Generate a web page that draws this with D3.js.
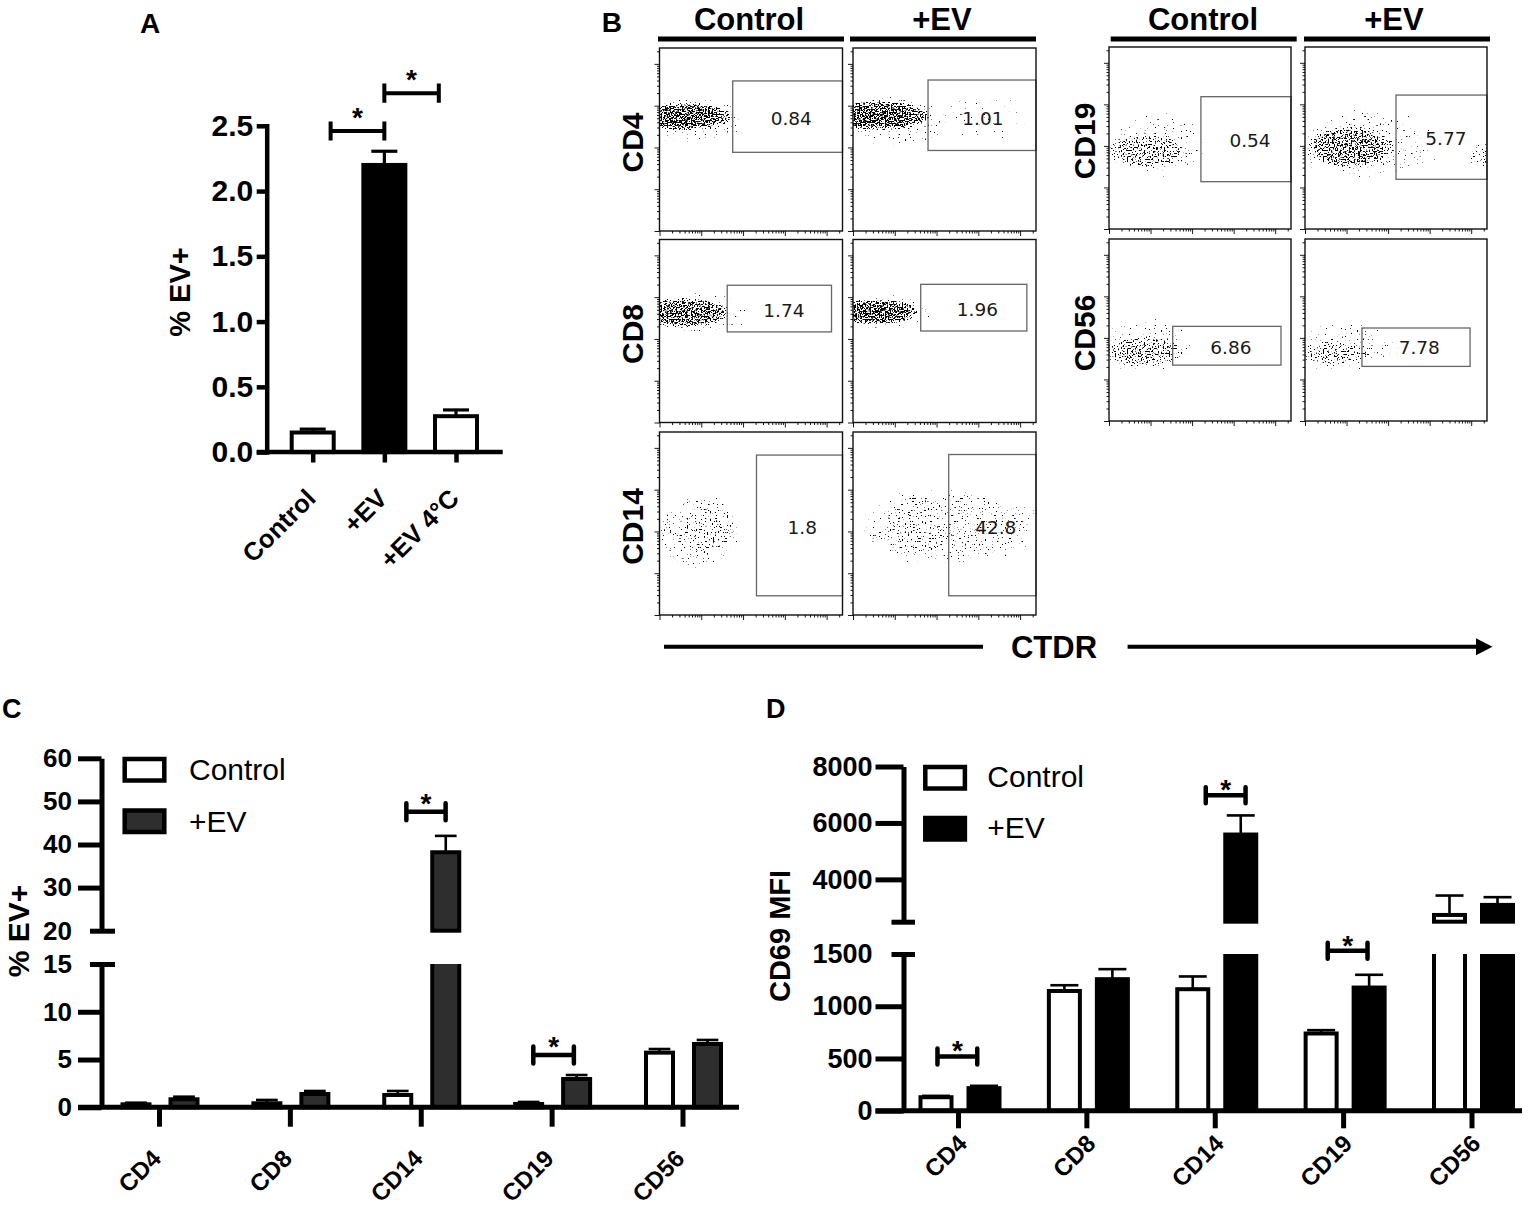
<!DOCTYPE html>
<html>
<head>
<meta charset="utf-8">
<script src="https://cdn.jsdelivr.net/npm/d3@7/dist/d3.min.js"></script>
<style>
  body { margin: 0; background: #fff; }
  svg { display: block; }
  text { font-family: "Liberation Sans", Arial, Helvetica, sans-serif; fill: #000; }
</style>
</head>
<body>
<svg id="fig" width="1536" height="1206"></svg>
<script>
/************** data **************/
// A : % EV+ cells
var groupsA = ['Control', '+EV', '+EV 4°C'];
var meanA   = [0.15, 2.20, 0.275];
var semA    = [0.026, 0.105, 0.048];
var fillA   = ['#fff', '#000', '#fff'];

// C / D : per cell type
var cellTypes  = ['CD4', 'CD8', 'CD14', 'CD19', 'CD56'];
var pctCtrl    = [0.31, 0.42, 1.29, 0.35, 5.72];
var pctCtrlSem = [0.17, 0.35, 0.42, 0.21, 0.38];
var pctEV      = [0.84, 1.39, 38.2, 2.96, 6.63];
var pctEVSem   = [0.27, 0.32, 3.8, 0.42, 0.42];
var mfiCtrl    = [129, 1146, 1163, 739, 2739];
var mfiCtrlSem = [13, 55, 122, 32, 688];
var mfiEV      = [216, 1259, 5589, 1179, 3095];
var mfiEVSem   = [22, 96, 677, 122, 274];

// significance brackets: [from, to] in category index units, height, axis segment
var sigA = [[0.25, 1, 2.46], [1, 1.76, 2.75]];
var sigC = [[1.89, 2.19, 47.6, 'high'], [2.86, 3.17, 5.48, 'low']];
var sigD = [[-0.16, 0.15, 520, 'low'], [1.93, 2.24, 6980, 'high'], [2.88, 3.19, 1530, 'low']];

// B : flow plots, channel units 0-1000 on both axes
var flowMarkers = ['CD4', 'CD8', 'CD14', 'CD19', 'CD56'];
var gateCtrl = [[400,1000,820,430],[370,940,750,495],[530,1000,874,105],[505,1000,727,260],[350,945,520,307]];
var gateEV   = [[410,1000,825,440],[370,950,755,500],[523,1000,877,105],[500,1000,736,273],[313,907,511,300]];
var freqCtrl = ['0.84', '1.74', '1.8', '0.54', '6.86'];
var freqEV   = ['1.01', '1.96', '42.8', '5.77', '7.78'];
var freqPosCtrl = [[720,616],[680,610],[780,480],[775,485],[670,405]];
var freqPosEV   = [[710,616],[680,620],[780,480],[774,500],[628,402]];
// cell clouds: [cx, cy, rx, ry, density]
var cloudCtrl = [
  [[130,625,270,75,1.0],[190,600,330,150,0.78]],
  [[130,600,260,80,0.98],[200,595,330,130,0.78]],
  [[270,470,170,170,0.83],[200,460,260,230,0.8]],
  [[210,430,230,100,0.9],[260,460,330,190,0.78]],
  [[190,380,230,85,0.9],[180,420,330,170,0.78]]
];
var cloudEV = [
  [[140,630,290,80,1.0],[210,600,360,160,0.78],[720,640,300,160,0.74]],
  [[120,605,240,70,1.0],[170,600,300,115,0.77]],
  [[360,480,220,200,0.82],[520,480,560,230,0.8]],
  [[250,450,240,115,0.95],[330,460,430,210,0.79],[975,400,90,80,0.83]],
  [[170,370,220,70,0.87],[200,410,340,160,0.78]]
];

/************** setup **************/
var svg = d3.select('#fig');
var defs = svg.append('defs');

// speckle filter : turns a soft alpha shape into a dot cloud
var flt = defs.append('filter').attr('id', 'speckle')
  .attr('color-interpolation-filters', 'sRGB');
flt.append('feTurbulence').attr('type', 'fractalNoise').attr('baseFrequency', 0.65)
  .attr('numOctaves', 1).attr('seed', 11).attr('result', 'noise');
flt.append('feColorMatrix').attr('in', 'noise').attr('type', 'matrix')
  .attr('values', '0 0 0 0 0  0 0 0 0 0  0 0 0 0 0  1 0 0 0 0').attr('result', 'na');
flt.append('feComposite').attr('in', 'na').attr('in2', 'SourceAlpha').attr('operator', 'arithmetic')
  .attr('k1', 0).attr('k2', 18).attr('k3', 18).attr('k4', -26);

function txt(g, x, y, s, size, weight, anchor) {
  return g.append('text').attr('x', x).attr('y', y).text(s)
    .style('font-size', size + 'px').style('font-weight', weight || 'bold')
    .attr('text-anchor', anchor || 'start');
}

// panel letters
txt(svg, 140, 33, 'A', 28);
txt(svg, 601.7, 31.7, 'B', 28);
txt(svg, 2, 718, 'C', 27);
txt(svg, 766, 718, 'D', 27);

/************** panel A **************/
(function () {
  var g = svg.append('g');
  var ax = 266.7;
  var y = d3.scaleLinear().domain([0, 2.5]).range([452.1, 125.8]);
  var x = d3.scalePoint().domain(groupsA).range([312.7, 456]);
  var xi = d3.scaleLinear().domain([0, groupsA.length - 1]).range([312.7, 456]);
  var bw = 46 - 4;

  groupsA.forEach(function (d, i) {
    var cx = x(d);
    g.append('rect').attr('x', cx - bw / 2).attr('y', y(meanA[i]))
      .attr('width', bw).attr('height', y(0) - y(meanA[i]))
      .attr('fill', fillA[i]).attr('stroke', '#000').attr('stroke-width', 4);
    var top = y(meanA[i] + semA[i]);
    g.append('line').attr('x1', cx).attr('x2', cx).attr('y1', y(meanA[i])).attr('y2', top)
      .attr('stroke', '#000').attr('stroke-width', 3.2);
    g.append('line').attr('x1', cx - 13).attr('x2', cx + 13).attr('y1', top).attr('y2', top)
      .attr('stroke', '#000').attr('stroke-width', 3.2);
  });

  var ya = g.append('g').attr('transform', 'translate(' + ax + ',0)')
    .call(d3.axisLeft(y).tickValues([0, 0.5, 1, 1.5, 2, 2.5]).tickFormat(d3.format('.1f'))
      .tickSize(10).tickSizeOuter(0).tickPadding(3.4));
  ya.select('.domain').attr('stroke-width', 4.5).attr('stroke-linecap', 'square');
  ya.selectAll('.tick line').attr('stroke-width', 4.5);
  ya.selectAll('.tick text').style('font-size', '30px').style('font-weight', 'bold')
    .style('font-family', '"Liberation Sans", Arial, sans-serif');

  g.append('line').attr('x1', ax - 10).attr('x2', 502.7).attr('y1', y(0)).attr('y2', y(0))
    .attr('stroke', '#000').attr('stroke-width', 4.5);
  var xa = g.append('g').attr('transform', 'translate(0,' + y(0) + ')')
    .call(d3.axisBottom(x).tickSize(10.4));
  xa.select('.domain').remove();
  xa.selectAll('.tick line').attr('stroke-width', 4.5);
  xa.selectAll('.tick text').attr('x', 0).attr('y', 0).attr('dy', 0)
    .attr('text-anchor', 'end')
    .attr('transform', 'translate(4,' + (500 - y(0)) + ') rotate(-45)')
    .style('font-size', '25.5px').style('font-weight', 'bold')
    .style('font-family', '"Liberation Sans", Arial, sans-serif');

  g.append('text').attr('transform', 'translate(190,292) rotate(-90)')
    .attr('text-anchor', 'middle').style('font-size', '29px').style('font-weight', 'bold')
    .text('% EV+');

  sigA.forEach(function (s) {
    var x0 = xi(s[0]), x1 = xi(s[1]), yy = y(s[2]);
    g.append('path').attr('d', 'M' + x0 + ',' + (yy - 9.6) + 'V' + (yy + 9.6) + 'M' + x0 + ',' + yy + 'H' + x1 +
      'M' + x1 + ',' + (yy - 9.6) + 'V' + (yy + 9.6))
      .attr('fill', 'none').attr('stroke', '#000').attr('stroke-width', 4);
    txt(g, (x0 + x1) / 2, yy - 20 + 16, '*', 28, 'bold', 'middle');
  });
})();

/************** panels C and D **************/
function brokenPanel(o) {
  var g = svg.append('g');
  var low = d3.scaleLinear().domain(o.lowDomain).range(o.lowRange);
  var high = d3.scaleLinear().domain(o.highDomain).range(o.highRange);
  var lowMax = o.lowDomain[1], highMin = o.highDomain[0];
  var x = d3.scalePoint().domain(cellTypes).range(o.xRange);
  var xi = d3.scaleLinear().domain([0, cellTypes.length - 1]).range(o.xRange);

  o.series.forEach(function (s, si) {
    cellTypes.forEach(function (c, i) {
      var v = s.mean[i], e = s.sem[i];
      var cx = x(c) + o.offsets[si], w = o.barW - 4, x0 = cx - w / 2;
      if (v <= lowMax) {
        g.append('rect').attr('x', x0).attr('y', low(v)).attr('width', w)
          .attr('height', low(0) - low(v)).attr('fill', s.fill)
          .attr('stroke', '#000').attr('stroke-width', 4);
      } else {
        g.append('rect').attr('x', x0).attr('y', low(lowMax)).attr('width', w)
          .attr('height', low(0) - low(lowMax)).attr('fill', s.fill);
        g.append('path').attr('d', 'M' + x0 + ',' + low(lowMax) + 'V' + low(0) + 'H' + (x0 + w) + 'V' + low(lowMax))
          .attr('fill', 'none').attr('stroke', '#000').attr('stroke-width', 4);
        g.append('rect').attr('x', x0).attr('y', high(v)).attr('width', w)
          .attr('height', high(highMin) - high(v)).attr('fill', s.fill)
          .attr('stroke', '#000').attr('stroke-width', 4);
      }
      var sc = v <= lowMax ? low : high;
      var cap = o.barW * o.capFrac / 2;
      g.append('line').attr('x1', cx).attr('x2', cx).attr('y1', sc(v)).attr('y2', sc(v + e))
        .attr('stroke', '#000').attr('stroke-width', 2.6);
      g.append('line').attr('x1', cx - cap).attr('x2', cx + cap).attr('y1', sc(v + e)).attr('y2', sc(v + e))
        .attr('stroke', '#000').attr('stroke-width', 2.6);
    });
  });

  function styleAxis(a, brkVal) {
    a.select('.domain').attr('stroke-width', 5);
    a.selectAll('.tick line').attr('stroke-width', 5);
    a.selectAll('.tick').filter(function (d) { return d === brkVal; }).select('line')
      .attr('x1', o.brk[1]).attr('x2', o.brk[0]);
    a.selectAll('.tick text').style('font-size', o.tickFont + 'px').style('font-weight', 'bold')
      .style('font-family', '"Liberation Sans", Arial, sans-serif');
  }
  var ah = g.append('g').attr('transform', 'translate(' + o.axisX + ',0)')
    .call(d3.axisLeft(high).tickValues(o.highTicks).tickFormat(o.highFormat)
      .tickSize(o.tickLen).tickSizeOuter(0).tickPadding(o.pad));
  styleAxis(ah, highMin);
  var al = g.append('g').attr('transform', 'translate(' + o.axisX + ',0)')
    .call(d3.axisLeft(low).tickValues(o.lowTicks).tickFormat(d3.format('d'))
      .tickSize(o.tickLen).tickSizeOuter(0).tickPadding(o.pad));
  styleAxis(al, lowMax);

  g.append('line').attr('x1', o.axisX - o.tickLen).attr('x2', o.xEnd)
    .attr('y1', low(0)).attr('y2', low(0)).attr('stroke', '#000').attr('stroke-width', 5);
  var xa = g.append('g').attr('transform', 'translate(0,' + low(0) + ')')
    .call(d3.axisBottom(x).tickSize(o.catTick));
  xa.select('.domain').remove();
  xa.selectAll('.tick line').attr('stroke-width', 5);
  xa.selectAll('.tick text').attr('x', 0).attr('y', 0).attr('dy', 0).attr('text-anchor', 'end')
    .attr('transform', 'translate(' + o.labelDx + ',' + (o.labelY - low(0)) + ') rotate(-45)')
    .style('font-size', '24px').style('font-weight', 'bold')
    .style('font-family', '"Liberation Sans", Arial, sans-serif');

  o.sig.forEach(function (s) {
    var x0 = xi(s[0]), x1 = xi(s[1]), yy = (s[3] === 'high' ? high : low)(s[2]), hh = o.sigH;
    g.append('path').attr('d', 'M' + x0 + ',' + (yy - hh) + 'V' + (yy + hh) + 'M' + x0 + ',' + yy + 'H' + x1 +
      'M' + x1 + ',' + (yy - hh) + 'V' + (yy + hh))
      .attr('fill', 'none').attr('stroke', '#000').attr('stroke-width', 4.5).attr('stroke-linecap', 'round');
    txt(g, (x0 + x1) / 2, yy - o.starDy + 16, '*', 28, 'bold', 'middle');
  });

  // legend
  o.series.forEach(function (s, si) {
    var ly = o.legendY[si];
    g.append('rect').attr('x', o.legendX + 2).attr('y', ly + 2).attr('width', 39.6).attr('height', o.legendH - 4)
      .attr('fill', s.fill).attr('stroke', '#000').attr('stroke-width', 4.5);
    txt(g, o.legendTextX, o.legendBase[si], s.name, 30, 'normal');
  });

  g.append('text').attr('transform', 'translate(' + o.yLabel[0] + ',' + o.yLabel[1] + ') rotate(-90)')
    .attr('text-anchor', 'middle').style('font-size', o.yLabel[2] + 'px').style('font-weight', 'bold')
    .text(o.yTitle);
}

brokenPanel({
  lowDomain: [0, 15], lowRange: [1107.3, 964],
  highDomain: [20, 60], highRange: [930.7, 758.3],
  lowTicks: [0, 5, 10, 15], highTicks: [20, 30, 40, 50, 60], highFormat: d3.format('d'),
  axisX: 101.5, tickLen: 23.5, pad: 6, brk: [-11.5, 13.5], tickFont: 26,
  xRange: [159, 682.5], xEnd: 739, catTick: 19.4, labelDx: 3, labelY: 1160,
  barW: 31, offsets: [-23, 25], capFrac: 0.7,
  series: [
    { name: 'Control', mean: pctCtrl, sem: pctCtrlSem, fill: '#fff' },
    { name: '+EV', mean: pctEV, sem: pctEVSem, fill: '#2e2e2e' }
  ],
  sig: sigC, sigH: 8.5, starDy: 15,
  legendX: 122.7, legendY: [757, 808.5], legendH: 25.5, legendTextX: 189, legendBase: [780, 831.7],
  yLabel: [29, 931, 30], yTitle: '% EV+'
});

brokenPanel({
  lowDomain: [0, 1500], lowRange: [1110.7, 954],
  highDomain: [2500, 8000], highRange: [921.7, 766.5],
  lowTicks: [0, 500, 1000, 1500], highTicks: [2500, 4000, 6000, 8000],
  highFormat: function (d) { return d === 2500 ? '' : d3.format('d')(d); },
  axisX: 903.5, tickLen: 28, pad: 3, brk: [-12, 11.5], tickFont: 27,
  xRange: [958, 1471.5], xEnd: 1522, catTick: 17.6, labelDx: 10, labelY: 1145,
  barW: 35, offsets: [-22, 26], capFrac: 0.8,
  series: [
    { name: 'Control', mean: mfiCtrl, sem: mfiCtrlSem, fill: '#fff' },
    { name: '+EV', mean: mfiEV, sem: mfiEVSem, fill: '#000' }
  ],
  sig: sigD, sigH: 8, starDy: 12,
  legendX: 923.3, legendY: [765, 816], legendH: 25.5, legendTextX: 987.3, legendBase: [786.7, 838.3],
  yLabel: [790, 936, 29], yTitle: 'CD69 MFI'
});

/************** panel B : flow plots **************/
function logTickValues(maxV) {
  var t = [];
  for (var e = 1; e <= 5; e++) for (var m = 1; m <= 9; m++) {
    var v = m * Math.pow(10, e);
    if (v <= maxV) t.push(v);
  }
  return t;
}
function isDecade(d) { var l = Math.log10(d); return Math.abs(l - Math.round(l)) < 1e-9; }

function flowPlot(px, py, size, k, clouds, gate, freq, pos) {
  var g = svg.append('g').attr('transform', 'translate(' + px + ',' + py + ')');
  var cx = d3.scaleLinear().domain([0, 1000]).range([0, size]);
  var cy = d3.scaleLinear().domain([0, 1000]).range([size, 0]);
  var clipId = 'clip' + k;
  defs.append('clipPath').attr('id', clipId).append('rect').attr('width', size).attr('height', size);
  var cg = g.append('g').attr('clip-path', 'url(#' + clipId + ')');
  clouds.forEach(function (c, j) {
    var gid = 'grad' + k + '_' + j;
    var gr = defs.append('radialGradient').attr('id', gid);
    gr.append('stop').attr('offset', 0).attr('stop-color', '#000').attr('stop-opacity', c[4]);
    gr.append('stop').attr('offset', 0.75).attr('stop-color', '#000').attr('stop-opacity', c[4] - 0.03);
    gr.append('stop').attr('offset', 1).attr('stop-color', '#000').attr('stop-opacity', c[4] - 0.15);
    cg.append('ellipse').attr('cx', cx(c[0])).attr('cy', cy(c[1]))
      .attr('rx', cx(c[2])).attr('ry', size - cy(c[3]))
      .attr('fill', 'url(#' + gid + ')').attr('filter', 'url(#speckle)');
  });
  g.append('rect').attr('x', cx(gate[0])).attr('y', cy(gate[2]))
    .attr('width', cx(gate[1]) - cx(gate[0])).attr('height', cy(gate[3]) - cy(gate[2]))
    .attr('fill', 'none').attr('stroke', '#666').attr('stroke-width', 1.3);
  g.append('text').attr('x', cx(pos[0])).attr('y', cy(pos[1]) + 6.6).attr('text-anchor', 'middle')
    .style('font-family', '"DejaVu Sans", Verdana, sans-serif').style('font-size', '18.5px')
    .style('fill', '#1a1a1a').text(freq);
  g.append('rect').attr('width', size).attr('height', size)
    .attr('fill', 'none').attr('stroke', '#111').attr('stroke-width', 1.4);

  var lx = d3.scaleLog().domain([10, 2.4e5]).range([0, size]);
  var ly = d3.scaleLog().domain([10, 2.4e5]).range([size, 0]);
  var tv = logTickValues(2.4e5);
  var bx = g.append('g').attr('transform', 'translate(0,' + size + ')')
    .call(d3.axisBottom(lx).tickValues(tv).tickSize(2.5).tickFormat(''));
  bx.select('.domain').remove();
  bx.selectAll('.tick line').attr('y2', function (d) { return isDecade(d) ? 5 : 2.5; }).attr('stroke-width', 0.9);
  var by = g.append('g')
    .call(d3.axisLeft(ly).tickValues(tv).tickSize(2.5).tickFormat(''));
  by.select('.domain').remove();
  by.selectAll('.tick line').attr('x2', function (d) { return isDecade(d) ? -5 : -2.5; }).attr('stroke-width', 0.9);
}

// layout of the two blocks
var leftCols = [659.5, 853], leftRows = [48, 239.5, 432], leftSize = 183;
var rightCols = [1109, 1305], rightRows = [47, 239], rightSize = 182;

flowMarkers.forEach(function (m, i) {
  var isLeft = i < 3;
  var cols = isLeft ? leftCols : rightCols;
  var rowY = isLeft ? leftRows[i] : rightRows[i - 3];
  var size = isLeft ? leftSize : rightSize;
  flowPlot(cols[0], rowY, size, 'c' + i, cloudCtrl[i], gateCtrl[i], freqCtrl[i], freqPosCtrl[i]);
  flowPlot(cols[1], rowY, size, 'e' + i, cloudEV[i], gateEV[i], freqEV[i], freqPosEV[i]);
  svg.append('text').attr('transform', 'translate(' + (isLeft ? 643 : 1095) + ',' + (rowY + size / 2 + 3) + ') rotate(-90)')
    .attr('text-anchor', 'middle').style('font-size', '30px').style('font-weight', 'bold').text(m);
});

// column headers
[[749, 942, 658, 844, 850, 1036], [1203, 1394, 1110.7, 1296.7, 1304, 1490]].forEach(function (h) {
  txt(svg, h[0], 30, 'Control', 31, 'bold', 'middle');
  txt(svg, h[1], 30, '+EV', 31, 'bold', 'middle');
  svg.append('line').attr('x1', h[2]).attr('x2', h[3]).attr('y1', 39).attr('y2', 39)
    .attr('stroke', '#000').attr('stroke-width', 5);
  svg.append('line').attr('x1', h[4]).attr('x2', h[5]).attr('y1', 39).attr('y2', 39)
    .attr('stroke', '#000').attr('stroke-width', 5);
});

// CTDR axis arrow
svg.append('line').attr('x1', 664).attr('x2', 983).attr('y1', 646.7).attr('y2', 646.7)
  .attr('stroke', '#000').attr('stroke-width', 4);
txt(svg, 1054, 658, 'CTDR', 31, 'bold', 'middle');
svg.append('line').attr('x1', 1127.6).attr('x2', 1480).attr('y1', 646.7).attr('y2', 646.7)
  .attr('stroke', '#000').attr('stroke-width', 4);
svg.append('path').attr('d', 'M1476,638.2 L1492.5,646.7 L1476,655.2 Z').attr('fill', '#000');
</script>
</body>
</html>
